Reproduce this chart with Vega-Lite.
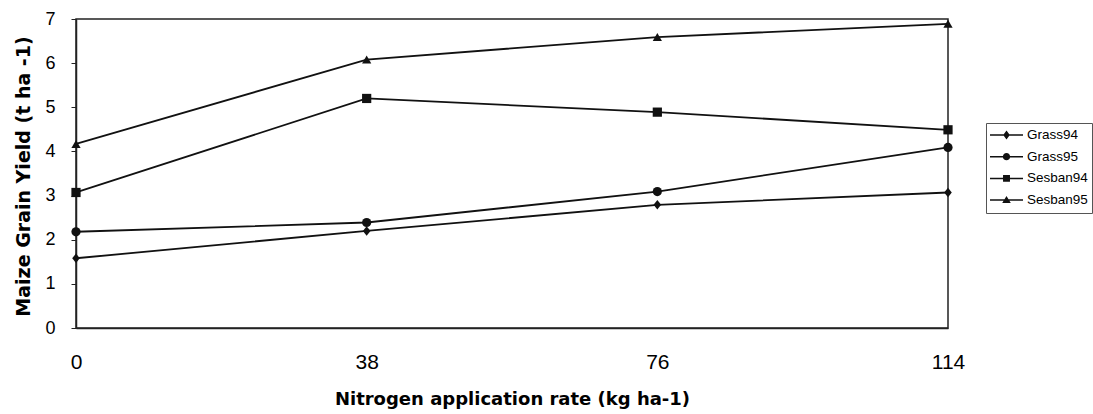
{
  "$schema": "https://vega.github.io/schema/vega-lite/v6.json",
  "width": 872,
  "height": 309,
  "autosize": "none",
  "padding": {"left": 76, "top": 19, "right": 145, "bottom": 86},
  "background": "white",
  "config": {
    "view": {"stroke": "#222", "strokeWidth": 1.5},
    "axis": {"grid": false, "domainColor": "#222", "domainWidth": 1.5, "tickColor": "#222", "labelColor": "black", "titleColor": "black"}
  },
  "data": {
    "values": [
      {"series": "Grass94", "n": 0, "y": 1.58},
      {"series": "Grass94", "n": 38, "y": 2.2},
      {"series": "Grass94", "n": 76, "y": 2.79},
      {"series": "Grass94", "n": 114, "y": 3.07},
      {"series": "Grass95", "n": 0, "y": 2.18},
      {"series": "Grass95", "n": 38, "y": 2.39},
      {"series": "Grass95", "n": 76, "y": 3.09},
      {"series": "Grass95", "n": 114, "y": 4.09},
      {"series": "Sesban94", "n": 0, "y": 3.07},
      {"series": "Sesban94", "n": 38, "y": 5.2},
      {"series": "Sesban94", "n": 76, "y": 4.89},
      {"series": "Sesban94", "n": 114, "y": 4.49},
      {"series": "Sesban95", "n": 0, "y": 4.17},
      {"series": "Sesban95", "n": 38, "y": 6.08},
      {"series": "Sesban95", "n": 76, "y": 6.59},
      {"series": "Sesban95", "n": 114, "y": 6.89}
    ]
  },
  "encoding": {
    "x": {
      "field": "n", "type": "quantitative",
      "scale": {"domain": [0, 114], "nice": false, "zero": false},
      "axis": {
        "values": [0, 38, 76, 114], "ticks": false, "labelPadding": 23, "labelFlush": false,
        "labelFont": "Liberation Sans", "labelFontSize": 21,
        "title": "Nitrogen application rate (kg ha-1)",
        "titleFont": "DejaVu Sans", "titleFontWeight": "bold", "titleFontSize": 18,
        "titleBaseline": "alphabetic", "titleY": 76
      }
    },
    "y": {
      "field": "y", "type": "quantitative",
      "scale": {"domain": [0, 7], "nice": false},
      "axis": {
        "values": [0, 1, 2, 3, 4, 5, 6, 7], "tickSize": 5, "labelPadding": 16, "labelFlush": false,
        "labelFont": "Liberation Sans", "labelFontSize": 18,
        "title": "Maize Grain Yield (t ha -1)",
        "titleFont": "DejaVu Sans", "titleFontWeight": "bold", "titleFontSize": 19,
        "titleBaseline": "alphabetic", "titleX": -47, "titleY": 157, "titleAngle": -90, "titleAlign": "center"
      }
    }
  },
  "layer": [
    {
      "mark": {"type": "line", "color": "#111", "strokeWidth": 1.8},
      "encoding": {"detail": {"field": "series"}}
    },
    {
      "transform": [{"filter": "datum.series === 'Grass94'"}],
      "mark": {"type": "point", "filled": true, "color": "#111", "opacity": 1, "size": 90, "shape": "M0,-1L0.8,0L0,1L-0.8,0Z"}
    },
    {
      "transform": [{"filter": "datum.series === 'Grass95'"}],
      "mark": {"type": "point", "filled": true, "color": "#111", "opacity": 1, "size": 85, "shape": "circle"}
    },
    {
      "transform": [{"filter": "datum.series === 'Sesban94'"}],
      "mark": {"type": "point", "filled": true, "color": "#111", "opacity": 1, "size": 85, "shape": "square"}
    },
    {
      "transform": [{"filter": "datum.series === 'Sesban95'"}],
      "mark": {"type": "point", "filled": true, "color": "#111", "opacity": 1, "size": 85, "shape": "triangle-up"}
    },
    {
      "mark": {"type": "point", "filled": true, "color": "#111", "opacity": 0, "size": 1089},
      "encoding": {
        "shape": {
          "field": "series",
          "scale": {"domain": ["Grass94", "Grass95", "Sesban94", "Sesban95"], "range": [
            "M-1,-0.045L1,-0.045L1,0.045L-1,0.045ZM0,-0.27L0.2,0L0,0.27L-0.2,0Z",
            "M-1,-0.045L1,-0.045L1,0.045L-1,0.045ZM-0.22,0A0.22,0.22,0,1,1,0.22,0A0.22,0.22,0,1,1,-0.22,0Z",
            "M-1,-0.045L1,-0.045L1,0.045L-1,0.045ZM-0.21,-0.21L0.21,-0.21L0.21,0.21L-0.21,0.21Z",
            "M-1,-0.045L1,-0.045L1,0.045L-1,0.045ZM0,-0.25L0.26,0.17L-0.26,0.17Z"
          ]},
          "legend": {
            "title": null, "orient": "none", "legendX": 910, "legendY": 104,
            "symbolSize": 1089, "symbolOpacity": 1, "symbolFillColor": "#111", "symbolStrokeWidth": 0,
            "clipHeight": 16, "rowPadding": 5.7, "padding": 4, "labelOffset": 4,
            "labelFont": "Liberation Sans", "labelFontSize": 13.5, "labelColor": "black",
            "strokeColor": "#555", "fillColor": "white"
          }
        }
      }
    }
  ]
}
